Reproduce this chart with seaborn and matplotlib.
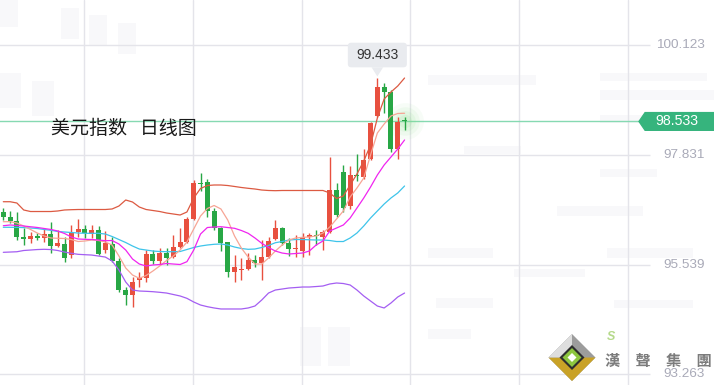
import numpy as np
import pandas as pd
import matplotlib
matplotlib.use("Agg")
import matplotlib.pyplot as plt
import matplotlib.patches as mpatches
import matplotlib.transforms as mtransforms
import seaborn as sns

# US dollar index, daily candles
opens = [96.644, 96.539, 96.449, 96.115, 96.073, 96.136, 96.100, 96.184, 95.932, 95.974,
         95.738, 96.213, 96.282, 96.177, 96.261, 95.842, 95.968, 95.619, 95.005, 94.901,
         95.215, 95.250, 95.759, 95.619, 95.786, 95.690, 95.899, 96.016, 96.485, 97.238,
         97.272, 96.665, 96.297, 96.016, 95.376, 95.424, 95.439, 95.633, 95.577, 95.702,
         96.066, 96.297, 95.989, 95.857, 95.832, 96.125, 96.150, 96.115, 96.226, 97.098,
         97.481, 96.753, 97.412, 97.360, 97.741, 98.647, 99.248, 99.143, 97.950, 98.545]
highs = [96.715, 96.665, 96.632, 96.297, 96.226, 96.205, 96.297, 96.429, 96.261, 96.121,
         96.366, 96.485, 96.372, 96.372, 96.345, 96.240, 96.121, 95.675, 95.062, 95.284,
         95.388, 95.842, 95.842, 95.878, 95.878, 96.156, 96.297, 96.539, 97.308, 97.460,
         97.322, 96.715, 96.330, 96.016, 95.738, 95.669, 95.786, 95.738, 96.052, 96.121,
         96.470, 96.330, 96.087, 96.156, 96.192, 96.198, 96.261, 96.261, 97.783, 97.238,
         97.622, 97.601, 97.845, 97.956, 98.528, 99.433, 99.332, 99.191, 98.620, 98.632]
lows = [96.470, 96.401, 96.052, 95.947, 95.983, 96.052, 96.016, 95.786, 95.912, 95.598,
        95.669, 96.121, 96.087, 96.087, 95.738, 95.773, 95.598, 94.970, 94.691, 94.656,
        95.074, 95.179, 95.549, 95.529, 95.529, 95.669, 95.878, 95.995, 96.470, 97.084,
        96.539, 96.261, 95.828, 95.271, 95.179, 95.215, 95.424, 95.493, 95.215, 95.669,
        96.052, 95.947, 95.711, 95.702, 95.702, 95.738, 95.947, 95.842, 96.205, 96.539,
        96.644, 96.701, 97.287, 97.329, 97.726, 98.632, 98.704, 97.900, 97.741, 98.354]
closes = [96.539, 96.456, 96.121, 96.073, 96.136, 96.100, 96.184, 95.932, 95.995, 95.681,
          96.205, 96.282, 96.192, 96.255, 95.759, 95.989, 95.619, 95.005, 94.901, 95.166,
          95.263, 95.759, 95.619, 95.786, 95.669, 95.899, 96.016, 96.485, 97.238, 97.218,
          96.665, 96.297, 95.995, 95.376, 95.480, 95.439, 95.633, 95.577, 95.690, 96.031,
          96.297, 95.995, 95.857, 95.870, 96.115, 96.146, 96.136, 96.226, 97.098, 96.575,
          96.732, 97.412, 97.381, 97.726, 98.507, 99.260, 99.143, 97.950, 98.528, 98.533]

# indicator lines
boll_upper = [96.853, 96.853, 96.826, 96.680, 96.648, 96.648, 96.648, 96.648, 96.659, 96.680,
              96.686, 96.690, 96.690, 96.690, 96.690, 96.690, 96.701, 96.763, 96.889, 96.847,
              96.742, 96.690, 96.669, 96.648, 96.617, 96.596, 96.575, 96.638, 96.931, 97.130,
              97.192, 97.203, 97.203, 97.192, 97.172, 97.151, 97.134, 97.119, 97.098, 97.088,
              97.084, 97.088, 97.088, 97.088, 97.088, 97.088, 97.088, 97.088, 97.036, 96.920,
              96.973, 97.203, 97.433, 97.705, 98.040, 98.605, 99.003, 99.149, 99.275, 99.442]
boll_mid = [96.318, 96.318, 96.316, 96.311, 96.303, 96.292, 96.272, 96.255, 96.230, 96.219,
            96.209, 96.198, 96.192, 96.192, 96.192, 96.177, 96.125, 96.062, 95.999, 95.926,
            95.863, 95.842, 95.821, 95.811, 95.807, 95.807, 95.811, 95.853, 95.895, 95.926,
            95.947, 95.962, 95.968, 95.947, 95.905, 95.874, 95.857, 95.863, 95.895, 95.937,
            95.995, 96.020, 96.052, 96.062, 96.062, 96.056, 96.052, 96.052, 96.041, 96.020,
            96.020, 96.094, 96.198, 96.345, 96.512, 96.659, 96.805, 96.931, 97.036, 97.182]
boll_lower = [95.794, 95.800, 95.806, 95.832, 95.842, 95.852, 95.857, 95.852, 95.832, 95.800,
              95.773, 95.752, 95.744, 95.737, 95.716, 95.695, 95.612, 95.424, 95.173, 95.005,
              94.984, 94.978, 94.970, 94.957, 94.942, 94.911, 94.880, 94.831, 94.754, 94.691,
              94.656, 94.629, 94.608, 94.608, 94.608, 94.608, 94.629, 94.670, 94.796, 94.942,
              95.005, 95.026, 95.047, 95.057, 95.068, 95.068, 95.078, 95.089, 95.131, 95.152,
              95.141, 95.110, 95.005, 94.880, 94.775, 94.670, 94.629, 94.733, 94.859, 94.942]
ma5 = [96.435, 96.435, 96.408, 96.345, 96.272, 96.198, 96.136, 96.094, 96.088, 96.083,
       96.062, 96.020, 96.031, 96.052, 96.041, 96.010, 95.947, 95.717, 95.466, 95.319,
       95.250, 95.309, 95.403, 95.508, 95.623, 95.717, 95.842, 96.010, 96.282, 96.554,
       96.711, 96.774, 96.701, 96.470, 96.136, 95.884, 95.696, 95.549, 95.549, 95.675,
       95.821, 95.947, 96.052, 96.094, 96.108, 96.115, 96.136, 96.198, 96.324, 96.491,
       96.659, 96.952, 97.140, 97.349, 97.830, 98.291, 98.479, 98.647, 98.700, 98.704]
ma10 = [96.351, 96.366, 96.356, 96.345, 96.329, 96.314, 96.293, 96.272, 96.240, 96.188,
        96.115, 96.073, 96.066, 96.062, 96.052, 96.037, 96.041, 95.968, 95.842, 95.654,
        95.549, 95.508, 95.529, 95.539, 95.560, 95.549, 95.539, 95.598, 95.842, 96.177,
        96.313, 96.324, 96.330, 96.313, 96.297, 96.251, 96.192, 96.094, 95.983, 95.895,
        95.821, 95.779, 95.759, 95.769, 95.779, 95.821, 95.947, 96.031, 96.240, 96.303,
        96.366, 96.512, 96.721, 96.931, 97.161, 97.412, 97.622, 97.789, 97.956, 98.145]

y_ticks = [100.123, 97.831, 95.539, 93.247]
y_labels = ["100.123", "97.831", "95.539", "93.263"]
last_price = 98.533
title = "美元指数   日线图"
brand = "漢　聲　集　團"

UP, DOWN = "#e8503f", "#28a745"

sns.set_style("white")
plt.rcParams['font.family'] = ['Liberation Sans', 'Noto Sans CJK SC', 'DejaVu Sans']

fig = plt.figure(figsize=(7.14, 3.85), dpi=100)
ax = fig.add_axes([0, 0, 1, 1])
ax.set_xlim(-0.485, 104.5)
ax.set_ylim(93.017, 101.075)
ax.axis("off")

# faint watermark blocks behind everything (x, y, w, h in axes fraction)
wm = [(0.000, 0.93, 0.025, 0.07), (0.085, 0.90, 0.025, 0.08), (0.125, 0.88, 0.025, 0.08),
      (0.165, 0.86, 0.025, 0.08), (0.000, 0.72, 0.030, 0.09), (0.045, 0.70, 0.030, 0.09),
      (0.600, 0.78, 0.150, 0.025), (0.840, 0.79, 0.150, 0.020), (0.840, 0.74, 0.160, 0.025),
      (0.840, 0.68, 0.070, 0.022), (0.650, 0.60, 0.080, 0.020), (0.840, 0.54, 0.080, 0.022),
      (0.780, 0.44, 0.120, 0.025), (0.600, 0.33, 0.090, 0.025), (0.850, 0.33, 0.120, 0.025),
      (0.720, 0.28, 0.100, 0.022), (0.610, 0.20, 0.080, 0.025), (0.860, 0.20, 0.110, 0.022),
      (0.600, 0.12, 0.060, 0.025), (0.420, 0.05, 0.030, 0.10), (0.460, 0.05, 0.030, 0.10)]
for x0, y0, w, hh in wm:
    ax.add_patch(mpatches.Rectangle((x0, y0), w, hh, transform=ax.transAxes,
                                    fc="#f8f8fa", lw=0, zorder=0))

day = np.arange(len(closes))
o, h, l, c = map(np.array, (opens, highs, lows, closes))

# grid
for xv in [11.85, 27.85, 43.85, 59.85, 75.85, 91.85]:
    ax.axvline(xv, color="#e4e4ea", lw=1, zorder=0.5)
ax.hlines(y_ticks, -1, 95.1, color="#e4e4ea", lw=1, zorder=0.5)

# last price line
ax.hlines(last_price, -1, 93.5, color="#86d9b2", lw=1, zorder=1)

# glow round the last candle
for s, a in [(700, 0.06), (420, 0.08), (220, 0.1), (90, 0.12)]:
    ax.scatter([day[-1]], [last_price], s=s, color="#7fdc7f", alpha=a, lw=0, zorder=1)

# candles
up = c >= o
col = np.where(up, UP, DOWN)
ax.vlines(day, l, h, color=col, lw=1, zorder=2)
body = np.maximum(np.abs(c - o), 0.022)
ax.bar(day, body, bottom=np.minimum(o, c), width=0.74, color=col, lw=0, zorder=2)

# indicator lines through seaborn
lines = pd.DataFrame({"day": day, "upper": boll_upper, "mid": boll_mid, "lower": boll_lower,
                      "ma5": ma5, "ma10": ma10})
long = lines.melt(id_vars="day", var_name="line", value_name="price")
palette = {"upper": "#dc5a42", "mid": "#3ec4ea", "lower": "#a45ef2",
           "ma5": "#f7a595", "ma10": "#f025f0"}
sns.lineplot(data=long, x="day", y="price", hue="line", palette=palette,
             legend=False, lw=0.9, ax=ax, zorder=3)

# y labels inside on the right
blend = mtransforms.blended_transform_factory(ax.transAxes, ax.transData)
for v, t in zip(y_ticks, y_labels):
    ax.text(0.9875, v, t, transform=blend, ha="right", va="center",
            fontsize=9.7, color="#a9aab8", zorder=4)

# last price tag
tag_h = 0.185
tag = mpatches.Polygon([(0.8950, last_price), (0.9035, last_price + tag_h),
                        (1.0, last_price + tag_h), (1.0, last_price - tag_h),
                        (0.9035, last_price - tag_h)],
                       closed=True, transform=blend, color="#36b47d", zorder=5)
ax.add_patch(tag)
ax.text(0.9475, last_price, f"{last_price:.3f}", transform=blend, ha="center",
        va="center", fontsize=10.2, color="white", zorder=6)

# peak tooltip
pk = int(np.argmax(h))
box_bottom = h[pk] + 0.233
box = mpatches.FancyBboxPatch((pk - 4.34, box_bottom), 8.68, 0.515,
                              boxstyle="round,pad=0,rounding_size=0.5",
                              mutation_aspect=0.142, fc="#e9ebef", ec="none", zorder=5)
ax.add_patch(box)
ax.add_patch(mpatches.Polygon([(pk - 0.85, box_bottom), (pk + 0.85, box_bottom),
                               (pk, h[pk] + 0.04)], closed=True,
                              fc="#e9ebef", ec="none", zorder=5))
ax.text(pk, box_bottom + 0.2575, f"{h[pk]:.3f}", ha="center", va="center",
        fontsize=10, color="#333333", zorder=6)

# title
ax.text(0.071, 0.6675, title, transform=ax.transAxes, ha="left", va="center",
        fontsize=13.7, color="#1a1a1a", family=["Noto Sans CJK SC", "DejaVu Sans"], zorder=6)

# logo
cx, cy, r = 572 / 714, 1 - 357.5 / 385, 23.5
def diamond(rad, **kw):
    dx, dy = rad / 714, rad / 385
    return mpatches.Polygon([(cx, cy + dy), (cx + dx, cy), (cx, cy - dy), (cx - dx, cy)],
                            closed=True, transform=ax.transAxes, lw=0, zorder=7, **kw)
ax.add_patch(diamond(r, fc="#9c9c9c"))
dx, dy = r / 714, r / 385
ax.add_patch(mpatches.Polygon([(cx - dx, cy), (cx, cy - dy), (cx + dx, cy)], closed=True,
                              transform=ax.transAxes, fc="#c9a227", lw=0, zorder=7))
ax.add_patch(mpatches.Polygon([(cx - dx, cy), (cx, cy + dy), (cx, cy + dy * 0.5),
                               (cx - dx * 0.5, cy)], closed=True,
                              transform=ax.transAxes, fc="#dedede", lw=0, zorder=7))
ax.add_patch(diamond(12.5, fc="#2e2e2e"))
ax.add_patch(diamond(9.5, fc="#8dc63f"))
ax.add_patch(diamond(4.5, fc="white"))
ax.text(611 / 714, 1 - 337 / 385, "S", transform=ax.transAxes, ha="center", va="center",
        fontsize=9, color="#b5d98a", style="italic", weight="bold", zorder=7)
ax.text(605 / 714, 1 - 361 / 385, brand, transform=ax.transAxes, ha="left", va="center",
        fontsize=11, color="#7c7c7c", weight="bold",
        family=["Noto Sans CJK TC", "DejaVu Sans"], zorder=7)

fig.savefig("out.png", dpi=100)
